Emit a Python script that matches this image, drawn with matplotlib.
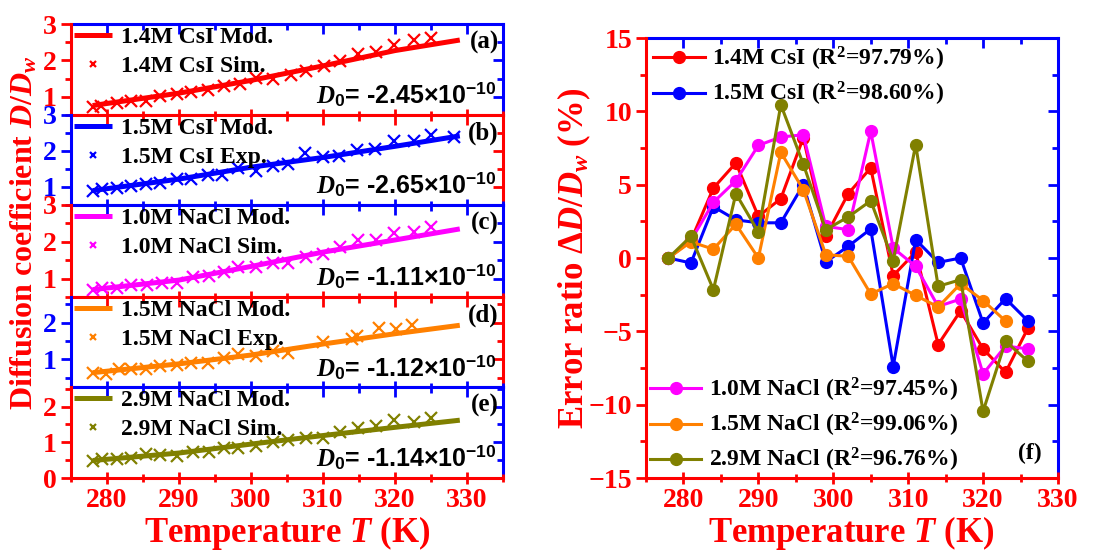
import numpy as np
import matplotlib.pyplot as plt
from matplotlib.ticker import MultipleLocator

plt.rcParams["font.family"] = ["Liberation Serif", "DejaVu Serif"]
plt.rcParams["font.weight"] = "bold"
plt.rcParams["mathtext.fontset"] = "custom"
plt.rcParams["mathtext.rm"] = "Liberation Serif:bold"
plt.rcParams["mathtext.it"] = "Liberation Serif:italic:bold"
plt.rcParams["mathtext.bf"] = "Liberation Serif:bold"
plt.rcParams["mathtext.sf"] = "Liberation Sans:bold"

ROJO = "#ff0000"
AZUL = "#0000ff"
MAGENTA = "#ff00ff"
NARANJA = "#ff8000"
OLIVA = "#808000"

# ---- paneles (a)-(e): D/Dw vs T ----
T_mod = [278, 290, 300, 310, 320, 329]

T_a = [278.0, 279.1, 281.4, 283.4, 285.4, 287.4, 289.7, 291.7, 294.0, 296.2, 298.5,
       300.7, 303.0, 305.5, 307.7, 310.2, 312.4, 314.9, 317.4, 319.9, 322.6, 325.0]
D_a = [0.73, 0.76, 0.84, 0.88, 0.88, 1.02, 1.09, 1.13, 1.20, 1.29, 1.34,
       1.52, 1.49, 1.61, 1.70, 1.85, 1.97, 2.18, 2.22, 2.43, 2.56, 2.61]
mod_a = [0.76, 1.10, 1.45, 1.85, 2.27, 2.56]

T_b = [278.0, 279.3, 281.4, 283.4, 285.4, 287.4, 289.7, 291.7, 294.0, 296.0, 298.2, 300.7,
       303.0, 305.2, 307.5, 310.0, 312.2, 314.7, 317.2, 319.9, 322.6, 325.0, 328.2]
D_b = [0.88, 0.94, 0.98, 1.03, 1.09, 1.12, 1.21, 1.23, 1.32, 1.34, 1.52, 1.45,
       1.57, 1.65, 1.95, 1.82, 1.86, 2.03, 2.06, 2.27, 2.27, 2.45, 2.39]
mod_b = [0.90, 1.22, 1.55, 1.82, 2.13, 2.42]

T_c = [278.0, 279.3, 281.4, 283.4, 285.6, 287.7, 289.7, 291.9, 294.2, 296.2, 298.2,
       300.7, 303.0, 305.2, 307.7, 310.0, 312.4, 314.9, 317.4, 319.9, 322.6, 325.0]
D_c = [0.70, 0.75, 0.75, 0.82, 0.82, 0.88, 0.88, 1.05, 1.06, 1.18, 1.32,
       1.32, 1.43, 1.43, 1.59, 1.66, 1.86, 2.06, 2.06, 2.23, 2.27, 2.41]
mod_c = [0.70, 0.96, 1.33, 1.72, 2.05, 2.35]

T_d = [278.0, 279.8, 281.6, 283.4, 285.4, 287.4, 289.7, 291.7, 294.0, 296.2,
       298.2, 300.7, 303.0, 305.2, 310.0, 314.0, 314.7, 317.8, 320.1, 322.3]
D_d = [0.64, 0.61, 0.73, 0.73, 0.73, 0.82, 0.85, 0.91, 0.91, 1.05,
       1.14, 1.09, 1.23, 1.18, 1.48, 1.57, 1.64, 1.86, 1.82, 1.95]
mod_d = [0.64, 0.88, 1.12, 1.42, 1.70, 1.93]

T_e = [278.0, 279.3, 281.4, 283.4, 285.4, 287.4, 289.7, 291.9, 294.2, 296.2, 298.2,
       300.7, 303.0, 305.2, 307.7, 310.0, 312.4, 314.9, 317.4, 319.9, 322.6, 325.0]
D_e = [0.49, 0.54, 0.54, 0.56, 0.68, 0.65, 0.63, 0.72, 0.72, 0.83, 0.83,
       0.91, 1.00, 1.07, 1.11, 1.11, 1.28, 1.39, 1.46, 1.63, 1.57, 1.69]
mod_e = [0.49, 0.70, 0.95, 1.19, 1.42, 1.62]

paneles = [
    ("(a)", "1.4M CsI Mod.", "1.4M CsI Sim.", "-2.45", ROJO, T_a, D_a, mod_a, (0.5, 3.0), [1, 2, 3]),
    ("(b)", "1.5M CsI Mod.", "1.5M CsI Exp.", "-2.65", AZUL, T_b, D_b, mod_b, (0.5, 3.0), [1, 2, 3]),
    ("(c)", "1.0M NaCl Mod.", "1.0M NaCl Sim.", "-1.11", MAGENTA, T_c, D_c, mod_c, (0.5, 3.0), [1, 2, 3]),
    ("(d)", "1.5M NaCl Mod.", "1.5M NaCl Exp.", "-1.12", NARANJA, T_d, D_d, mod_d, (0.25, 2.7), [1, 2]),
    ("(e)", "2.9M NaCl Mod.", "2.9M NaCl Sim.", "-1.14", OLIVA, T_e, D_e, mod_e, (0.0, 2.55), [0, 1, 2]),
]

# ---- panel (f): error relativo ----
T_err = [278, 281, 284, 287, 290, 293, 296, 299, 302, 305, 308, 311, 314, 317, 320, 323, 326]
err_14csi = [0, 1.2, 4.77, 6.48, 2.84, 4.05, 8.2, 1.48, 4.39, 6.14, -1.2, 0.41, -5.9, -3.6, -6.2, -7.8, -4.77]
err_15csi = [0, -0.34, 3.5, 2.6, 2.4, 2.4, 5.0, -0.27, 0.8, 1.98, -7.4, 1.25, -0.3, 0.0, -4.43, -2.77, -4.3]
err_10nacl = [0, 1.2, 3.8, 5.27, 7.68, 8.25, 8.4, 2.16, 1.93, 8.64, 0.68, -0.57, -3.3, -2.8, -7.9, -6.0, -6.2]
err_15nacl = [0, 1.1, 0.6, 2.3, 0.0, 7.2, 4.66, 0.23, 0.11, -2.45, -1.75, -2.55, -3.34, -1.75, -2.9, -4.3]
err_29nacl = [0, 1.48, -2.16, 4.39, 1.77, 10.45, 6.4, 1.93, 2.8, 3.9, -0.18, 7.73, -1.93, -1.48, -10.45, -5.68, -7.05]

series_f = [
    ("1.4M CsI (R$^2$=97.79%)", ROJO, err_14csi),
    ("1.5M CsI (R$^2$=98.60%)", AZUL, err_15csi),
    ("1.0M NaCl (R$^2$=97.45%)", MAGENTA, err_10nacl),
    ("1.5M NaCl (R$^2$=99.06%)", NARANJA, err_15nacl),
    ("2.9M NaCl (R$^2$=96.76%)", OLIVA, err_29nacl),
]

W, H = 1105, 554
fig = plt.figure(figsize=(W / 100, H / 100), dpi=100)


def caja(x0, y0, x1, y1):
    # convierte pixeles (desde arriba a la izquierda) a fracciones de figura
    return [x0 / W, 1 - y1 / H, (x1 - x0) / W, (y1 - y0) / H]


def estilo_ejes(ax, c1, c2, xlim, ylim, ymaj, ymin, xlabels=True):
    ax.set_xlim(*xlim)
    ax.set_ylim(*ylim)
    for s in ("top", "right"):
        ax.spines[s].set_visible(False)
    for s in ("left", "bottom"):
        ax.spines[s].set_color(c1)
        ax.spines[s].set_linewidth(2.2)
    ax.xaxis.set_major_locator(MultipleLocator(10))
    ax.xaxis.set_minor_locator(MultipleLocator(5))
    ax.yaxis.set_minor_locator(MultipleLocator(ymin))
    ax.tick_params(which="both", colors=c1, width=2, labelsize=20, pad=3)
    ax.tick_params(axis="x", which="major", direction="inout", length=9, labelbottom=xlabels)
    ax.tick_params(axis="x", which="minor", direction="inout", length=6)
    ax.tick_params(axis="y", which="major", direction="out", length=7)
    ax.tick_params(axis="y", which="minor", direction="out", length=4)
    for lbl in ax.get_xticklabels() + ax.get_yticklabels():
        lbl.set_fontweight("bold")

    sx = ax.secondary_xaxis("top")
    sx.spines["top"].set_color(c2)
    sx.spines["top"].set_linewidth(2.2)
    sx.xaxis.set_major_locator(MultipleLocator(10))
    sx.xaxis.set_minor_locator(MultipleLocator(5))
    sx.tick_params(which="both", colors=c2, direction="in", width=2, labeltop=False)
    sx.tick_params(which="major", length=7)
    sx.tick_params(which="minor", length=4)

    sy = ax.secondary_yaxis("right")
    sy.spines["right"].set_color(c2)
    sy.spines["right"].set_linewidth(2.2)
    sy.yaxis.set_major_locator(ymaj)
    sy.yaxis.set_minor_locator(MultipleLocator(ymin))
    sy.tick_params(which="both", colors=c2, direction="in", width=2, labelright=False)
    sy.tick_params(which="major", length=7)
    sy.tick_params(which="minor", length=4)


# stack de 5 paneles a la izquierda
bordes = [24, 115, 205, 297, 387, 478]
for i, (letra, lab_mod, lab_dat, d0, color, T, D, mod, ylim, yt) in enumerate(paneles):
    ax = fig.add_axes(caja(71, bordes[i], 503, bordes[i + 1]))
    c1, c2 = (ROJO, AZUL) if i % 2 == 0 else (AZUL, ROJO)
    ax.plot(T_mod, mod, color=color, lw=3.6, label=lab_mod, solid_capstyle="butt")
    ax.plot(T, D, "x", color=color, ms=9, mew=1.6, label=lab_dat)
    ax.set_yticks(yt)
    estilo_ejes(ax, c1, c2, (275, 335), ylim, MultipleLocator(1), 0.5, xlabels=(i == 4))
    ax.legend(loc="upper left", frameon=False, fontsize=17, handlelength=1.6,
              handletextpad=0.4, labelspacing=0.32, borderaxespad=0.0,
              borderpad=0.12, markerscale=0.55)
    ax.text(0.99, 0.80, letra, transform=ax.transAxes, ha="right", va="center",
            fontsize=18, fontweight="bold")
    ax.text(0.985, 0.22, r"$D_{\mathsf{0}}$= " + d0 + r"×10$^{\mathsf{-10}}$",
            transform=ax.transAxes, ha="right", va="center", fontsize=18,
            fontweight="bold", family=["Liberation Sans", "DejaVu Sans"])

fig.text(287 / W, 1 - 533 / H, r"Temperature $T$ (K)", color=ROJO, fontsize=25,
         fontweight="bold", ha="center", va="center")
fig.text(24 / W, 1 - 233 / H, r"Diffusion coefficient $D/D_w$", color=ROJO, fontsize=23,
         fontweight="bold", ha="center", va="center", rotation=90)

# panel (f)
axf = fig.add_axes(caja(646, 38, 1058, 478))
for lab, color, err in series_f:
    axf.plot(T_err[:len(err)], err, "-o", color=color, lw=2.2, ms=8.5,
             mec=color, mfc=color, label=lab)
axf.set_yticks(np.arange(-15, 16, 5))
estilo_ejes(axf, ROJO, AZUL, (275, 330), (-15, 15), MultipleLocator(5), 2.5)
h, l = axf.get_legend_handles_labels()
leg1 = axf.legend(h[:2], l[:2], loc="upper left", frameon=False, fontsize=17,
                  handlelength=2.2, handletextpad=0.3, labelspacing=0.3,
                  borderaxespad=0.2, borderpad=0.1)
axf.add_artist(leg1)
axf.legend(h[2:], l[2:], loc="lower left", frameon=False, fontsize=17,
           handlelength=2.2, handletextpad=0.3, labelspacing=0.3,
           borderaxespad=0.1, borderpad=0.05)
axf.text(0.96, 0.055, "(f)", transform=axf.transAxes, ha="right", va="center",
         fontsize=17, fontweight="bold")
fig.text(851 / W, 1 - 533 / H, r"Temperature $T$ (K)", color=ROJO, fontsize=25,
         fontweight="bold", ha="center", va="center")
fig.text(574 / W, 1 - 258 / H, r"Error ratio $\Delta D/D_w$ (%)", color=ROJO, fontsize=25,
         fontweight="bold", ha="center", va="center", rotation=90)

fig.savefig("out.png", dpi=100, facecolor="white")
